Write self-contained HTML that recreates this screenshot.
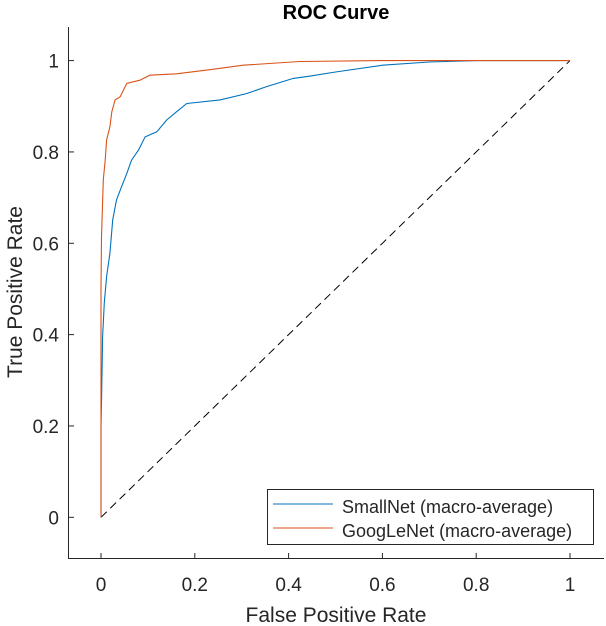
<!DOCTYPE html>
<html><head><meta charset="utf-8"><style>
html,body{margin:0;padding:0;background:#fff;width:606px;height:626px;overflow:hidden}
svg text{font-family:"Liberation Sans",Arial,sans-serif;fill:#262626}
</style></head><body>
<svg id="chart" width="606" height="626" viewBox="0 0 606 626" xmlns="http://www.w3.org/2000/svg">
<text x="336" y="19" text-anchor="middle" font-size="20" font-weight="bold" style="fill:#000">ROC Curve</text>
<g id="axes"></g>
<g id="series"></g>
<text x="336" y="622" text-anchor="middle" font-size="21">False Positive Rate</text>
<text transform="translate(22,292) rotate(-90)" text-anchor="middle" font-size="21">True Positive Rate</text>
<g>
<rect x="267.5" y="489.5" width="326" height="55" fill="#fff" stroke="#262626" stroke-width="1"/>
<line x1="273" y1="504" x2="333" y2="504" stroke="#0072BD" stroke-width="1"/>
<text x="342" y="513" font-size="18">SmallNet (macro-average)</text>
<line x1="273" y1="528" x2="333" y2="528" stroke="#D95319" stroke-width="1"/>
<text x="342" y="537" font-size="18">GoogLeNet (macro-average)</text>
</g>
</svg>
<script>
const xTicks=[0,0.2,0.4,0.6,0.8,1];
const yTicks=[0,0.2,0.4,0.6,0.8,1];
const xTickLabels=["0","0.2","0.4","0.6","0.8","1"];
const yTickLabels=["0","0.2","0.4","0.6","0.8","1"];
const smallFpr=[0,0,0.001,0.0035,0.007,0.012,0.019,0.025,0.033,0.044,0.055,0.065,0.08,0.094,0.119,0.14,0.161,0.183,0.254,0.311,0.353,0.41,0.446,0.5,0.6,0.7,0.8,1];
const smallTpr=[0,0.2,0.25,0.395,0.47,0.527,0.578,0.651,0.695,0.724,0.753,0.782,0.804,0.833,0.844,0.87,0.888,0.906,0.914,0.928,0.943,0.961,0.966,0.975,0.99,0.997,1,1];
const googFpr=[0,0,0.001,0.005,0.009,0.012,0.019,0.023,0.03,0.041,0.055,0.083,0.104,0.161,0.232,0.303,0.424,0.6,1];
const googTpr=[0,0.5,0.614,0.739,0.782,0.826,0.855,0.888,0.914,0.921,0.95,0.957,0.968,0.971,0.98,0.99,0.998,1,1];
const diagX=[0,1], diagY=[0,1];
const NS="http://www.w3.org/2000/svg";
const xs=v=>101+v*469;
const ys=v=>517.3-v*456.7;
const axes=document.getElementById('axes');
const series=document.getElementById('series');
function mk(tag,attrs,parent){const e=document.createElementNS(NS,tag);for(const k in attrs)e.setAttribute(k,attrs[k]);parent.appendChild(e);return e;}
let l=mk('line',{x1:68.5,y1:27,x2:68.5,y2:558.5,stroke:'#262626','stroke-width':1},axes);


l=mk('line',{x1:68,y1:558.5,x2:604,y2:558.5,stroke:'#262626','stroke-width':1},axes);


xTicks.forEach((t,i)=>{
 const tk=mk('line',{x1:xs(t),y1:558,x2:xs(t),y2:553,stroke:'#262626'},axes);
 
 
 const tx=mk('text',{x:xs(t),y:591,'text-anchor':'middle','font-size':19},axes);
 tx.textContent=xTickLabels[i];
 
 
});
yTicks.forEach((t,i)=>{
 const tk=mk('line',{x1:69,y1:ys(t),x2:74,y2:ys(t),stroke:'#262626'},axes);
 
 
 const tx=mk('text',{x:59,y:ys(t)+7,'text-anchor':'end','font-size':19},axes);
 tx.textContent=yTickLabels[i];
 
 
});
function pts(X,Y){return X.map((x,i)=>xs(x).toFixed(1)+','+ys(Y[i]).toFixed(1)).join(' ');}
let d=mk('polyline',{points:pts(diagX,diagY),fill:'none',stroke:'#000','stroke-width':1,'stroke-dasharray':'8,5'},series);


let s=mk('polyline',{points:pts(smallFpr,smallTpr),fill:'none',stroke:'#0072BD','stroke-width':1.1},series);


let g=mk('polyline',{points:pts(googFpr,googTpr),fill:'none',stroke:'#D95319','stroke-width':1.1},series);


</script>
</body></html>
